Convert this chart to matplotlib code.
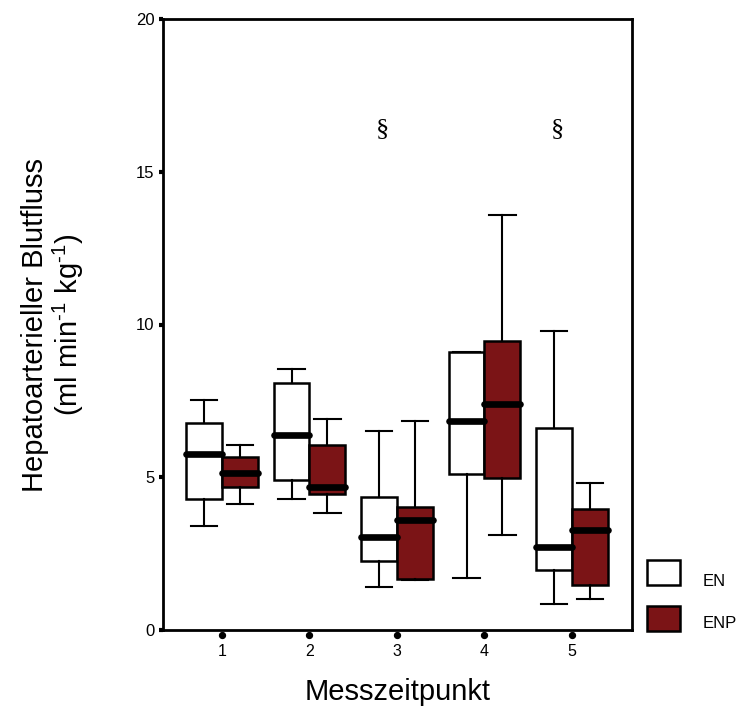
import matplotlib
matplotlib.use("Agg")
import matplotlib.pyplot as plt
from matplotlib.patches import Rectangle
from matplotlib.transforms import blended_transform_factory

plt.rcParams['font.family'] = ['Liberation Sans', 'DejaVu Sans']
plt.rcParams['mathtext.fontset'] = 'custom'
plt.rcParams['mathtext.rm'] = 'Liberation Sans'
plt.rcParams['mathtext.it'] = 'Liberation Sans'
plt.rcParams['mathtext.sf'] = 'Liberation Sans'

timepoints = [1, 2, 3, 4, 5]
groups = ["EN", "ENP"]
colors = {"EN": "#ffffff", "ENP": "#7b1416"}

# five-number summaries
EN_whislo = [3.41, 4.28, 1.40, 1.71, 0.86]
EN_q1 = [4.28, 4.90, 2.25, 5.12, 1.96]
EN_med = [5.75, 6.37, 3.04, 6.84, 2.72]
EN_q3 = [6.77, 8.10, 4.35, 9.10, 6.60]
EN_whishi = [7.53, 8.54, 6.52, 9.10, 9.78]

ENP_whislo = [4.12, 3.82, 1.65, 3.11, 1.01]
ENP_q1 = [4.67, 4.44, 1.68, 4.98, 1.47]
ENP_med = [5.13, 4.67, 3.59, 7.39, 3.26]
ENP_q3 = [5.67, 6.06, 4.04, 9.47, 3.96]
ENP_whishi = [6.06, 6.91, 6.84, 13.58, 4.81]

sig_timepoints = [3, 5]
sig_marks = ["§", "§"]

fig = plt.figure(figsize=(7.4, 7.09), dpi=100)
ax = fig.add_axes([163/740, 1-630/709, (632-163)/740, (630-19)/709])

data = {
    "EN": (EN_whislo, EN_q1, EN_med, EN_q3, EN_whishi),
    "ENP": (ENP_whislo, ENP_q1, ENP_med, ENP_q3, ENP_whishi),
}
offsets = {"EN": -0.205, "ENP": 0.205}
bw = 0.41
for g in groups:
    lo, q1, med, q3, hi = data[g]
    stats = [dict(whislo=lo[i], q1=q1[i], med=med[i], q3=q3[i], whishi=hi[i], fliers=[])
             for i in range(len(timepoints))]
    pos = [t + offsets[g] for t in timepoints]
    ax.bxp(stats, positions=pos, widths=bw, patch_artist=True, showfliers=False,
           boxprops=dict(facecolor=colors[g], edgecolor='black', linewidth=1.8),
           whiskerprops=dict(color='black', linewidth=1.5),
           capprops=dict(color='black', linewidth=1.5),
           capwidths=0.30,
           medianprops=dict(color='black', linewidth=4.8, solid_capstyle='round'),
           manage_ticks=False)

for t, m in zip(sig_timepoints, sig_marks):
    ax.text(t - 0.16, 16.4, m, ha='center', va='center', fontsize=19,
            family=['Liberation Serif', 'DejaVu Serif'])

ax.set_xlim(0.326, 5.686)
ax.set_ylim(0, 20)
ax.set_yticks([0, 5, 10, 15, 20])
ax.set_yticklabels(['0', '5', '10', '15', '20'], fontsize=12)
ax.tick_params(axis='y', direction='out', length=3, width=3, pad=3)
ax.set_xticks(timepoints)
ax.set_xticklabels([str(t) for t in timepoints], fontsize=11.5)
ax.tick_params(axis='x', length=0, pad=10)
trans = blended_transform_factory(ax.transData, ax.transAxes)
ax.scatter(timepoints, [-0.008]*5, s=18, color='black', transform=trans, clip_on=False, zorder=5)
for s in ax.spines.values():
    s.set_linewidth(2)

ax.set_ylabel("Hepatoarterieller Blutfluss\n(ml min$^{\\text{-1}}$ kg$^{\\text{-1}}$)", fontsize=21,
              labelpad=36, linespacing=1.05)
ax.set_xlabel("Messzeitpunkt", fontsize=21, labelpad=14)

# legend
for i, g in enumerate(groups):
    y0 = 1 - (585 + i*46)/709
    fig.patches.append(Rectangle((647/740, y0), 33/740, 25/709, facecolor=colors[g],
                                 edgecolor='black', linewidth=1.8, transform=fig.transFigure))
    fig.text(703/740, 1 - (581 + i*43)/709, g, fontsize=12, va='center', ha='left')

fig.savefig("out.png", dpi=100)
